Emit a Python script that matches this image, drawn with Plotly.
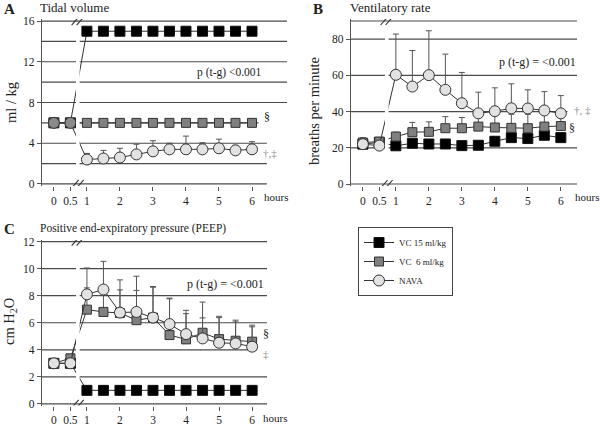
import plotly.graph_objects as go

# ---------------- data ----------------
HOURS = [0, 0.5, 1, 1.5, 2, 2.5, 3, 3.5, 4, 4.5, 5, 5.5, 6]
X_TICKS = [0, 0.5, 1, 2, 3, 4, 5, 6]
X_TICK_LABELS = ["0", "0.5", "1", "2", "3", "4", "5", "6"]
SERIES_NAMES = ["VC 15 ml/kg", "VC \u00a06 ml/kg", "NAVA"]

# A: tidal volume (ml/kg)
tv_vc15 = [6, 6, 15, 15, 15, 15, 15, 15, 15, 15, 15, 15, 15]
tv_vc6 = [6, 6, 6, 6, 6, 6, 6, 6, 6, 6, 6, 6, 6]
tv_nava = [6, 6, 2.4, 2.5, 2.6, 2.9, 3.2, 3.4, 3.4, 3.4, 3.5, 3.3, 3.4]
tv_nava_sd = [None, None, 0.6, 0.8, 0.9, 1.0, 1.05, 0.6, 1.3, 0.65, 0.9, 0.5, 0.75]

# B: ventilatory rate (breaths per minute)
rr_vc15 = [22, 23, 21.1, 22.5, 22.1, 22.1, 21.2, 21.4, 23.6, 25.6, 25.1, 26.9, 25.6]
rr_vc15_sd = [3.5, 2.5, 1.2, 1.5, 1.5, 1.5, 1.2, 1.5, 2.5, 4.3, 3.9, 4.1, 2.5]
rr_vc6 = [22.9, 23.4, 26.2, 28.6, 28.8, 30.8, 30.8, 31.7, 31.2, 31.0, 30.8, 31.7, 32]
rr_vc6_sd = [2.4, 2.1, 2.4, 5.4, 5.5, 6.4, 5.9, 6.8, 7.3, 7.5, 7.7, 6.8, 7.0]
rr_nava = [22, 21.2, 60.3, 53.8, 60.1, 52, 44.6, 39, 40.2, 41.8, 41.7, 40.6, 39]
rr_nava_sd = [1.5, 1.0, 22.5, 19.9, 24.5, 19.7, 17.0, 11.7, 12.9, 13.5, 10.3, 10.4, 9.8]

# C: PEEP (cm H2O)
peep_vc15 = [3, 3, 1, 1, 1, 1, 1, 1, 1, 1, 1, 1, 1]
peep_vc6 = [3.0, 3.37, 6.97, 6.8, 6.72, 6.19, 6.38, 5.09, 4.77, 5.26, 4.79, 4.67, 4.6]
peep_vc6_sd = [None, None, 1.61, 1.5, 1.71, 2.2, 2.25, 2.68, 1.9, 1.1, 1.59, 1.39, 1.1]
peep_nava = [3.0, 3.0, 8.1, 8.46, 6.75, 6.8, 6.38, 5.9, 5.16, 4.84, 4.52, 4.47, 4.23]
peep_nava_sd = [None, None, 1.95, 2.08, 2.42, 2.64, 2.3, 1.92, 1.76, 2.69, 1.96, 1.72, 1.59]

# ---------------- style ----------------
FONT = "Liberation Serif"
INK = "#222222"
GRID = "#4a4a4a"
LINE = "#333333"
DAGGER = "#8a8a8a"
W, H = 600, 425
TICK_SIZE = 11.5

def px_x(p):
    return p / W

def px_y(p):
    return (H - p) / H

fig = go.Figure()

marker_styles = [
    dict(symbol="square", size=10, color="#000000", line=dict(color="#111111", width=1)),
    dict(symbol="square", size=9, color="#808080", line=dict(color="#333333", width=1)),
    dict(symbol="circle", size=11, color="#e2e2e2", line=dict(color="#333333", width=1)),
]

def add_series(xa, ya, y, sd, k, legend=False, marker_override=None):
    m = dict(marker_styles[k])
    if marker_override:
        m.update(marker_override)
    err = None
    if sd is not None:
        err = dict(type="data", array=sd, symmetric=False,
                   arrayminus=[0] * len(sd), color="#555555", thickness=1, width=3)
    fig.add_trace(go.Scatter(
        x=HOURS, y=y, mode="lines+markers", name=SERIES_NAMES[k],
        xaxis=xa, yaxis=ya, marker=m, line=dict(color=LINE, width=1),
        error_y=err, showlegend=legend, legendrank=k + 1,
    ))

# Panel A
add_series("x", "y", tv_vc15, None, 0)
add_series("x", "y", tv_vc6, None, 1)
add_series("x", "y", tv_nava, tv_nava_sd, 2,
           marker_override=dict(color=["#8a8a8a", "#8a8a8a"] + ["#e2e2e2"] * 11))
# Panel B
add_series("x2", "y2", rr_vc15, rr_vc15_sd, 0)
add_series("x2", "y2", rr_vc6, rr_vc6_sd, 1)
add_series("x2", "y2", rr_nava, rr_nava_sd, 2)
# Panel C
add_series("x3", "y3", peep_vc15, None, 0, legend=True)
add_series("x3", "y3", peep_vc6, peep_vc6_sd, 1, legend=True)
add_series("x3", "y3", peep_nava, peep_nava_sd, 2, legend=True)

# ---------------- axes ----------------
XMIN = -0.36
panels = {
    "A": ("xaxis", "yaxis", 42, 287, 19, 186, [-0.2, 16.2], [0, 4, 8, 12, 16], 7.06),
    "B": ("xaxis2", "yaxis2", 351, 577, 19, 186, [-1.1, 91.1], [0, 20, 40, 60, 80], 6.49),
    "C": ("xaxis3", "yaxis3", 42, 267, 240, 405.5, [-0.12, 12.12], [0, 2, 4, 6, 8, 10, 12], 6.45),
}
anchors = {"A": ("y", "x"), "B": ("y2", "x2"), "C": ("y3", "x3")}
layout = {}
for key, (xn, yn, xl, xr, yt, yb, yr, yt_vals, xmax) in panels.items():
    layout[xn] = dict(
        domain=[px_x(xl), px_x(xr)], range=[XMIN, xmax], anchor=anchors[key][0],
        tickvals=X_TICKS, ticktext=X_TICK_LABELS, ticks="outside", ticklen=4,
        tickcolor="#555555", showgrid=False, showline=False, zeroline=False,
        automargin=False, tickfont=dict(size=TICK_SIZE, family=FONT, color=INK),
    )
    layout[yn] = dict(
        domain=[px_y(yb), px_y(yt)], range=yr, anchor=anchors[key][1],
        tickvals=yt_vals, ticks="outside", ticklen=4, tickcolor="#555555",
        showgrid=False, zeroline=False, showline=True, linecolor="#555555", linewidth=1.2,
        automargin=False, tickfont=dict(size=TICK_SIZE, family=FONT, color=INK),
    )

# ---------------- gridlines, break band, break marks ----------------
shapes = []
BAND = (0.67, 0.78)
grid_specs = {
    "A": ("x", "y", [(0, 6.45), (2, 6.45), (4, 6.45), (6, 6.2), (8, 7.06), (10, 7.06),
                     (12, 7.06), (14, 7.06), (16, 7.06)], 16, 0.25),
    "B": ("x2", "y2", [(0, 6.49), (20, 6.49), (40, 6.2), (60, 6.49), (80, 6.49), (90, 6.49)], 90, 1.4),
    "C": ("x3", "y3", [(0, 6.45), (2, 6.45), (4, 6.15), (6, 6.45), (8, 6.45), (10, 6.45),
                       (12, 6.45)], 12, 0.2),
}
for key, (xr_, yr_, levels, top, pad) in grid_specs.items():
    for lvl, xend in levels:
        shapes.append(dict(type="line", xref=xr_, yref=yr_, x0=XMIN, x1=xend, y0=lvl, y1=lvl,
                           line=dict(color=GRID, width=1.2), layer="between"))
    shapes.append(dict(type="rect", xref=xr_, yref=yr_, x0=BAND[0], x1=BAND[1],
                       y0=pad, y1=top - pad, fillcolor="white", line=dict(width=0), layer="above"))
    for ya in (0, top):
        for off in (-2.5, 2.5):
            shapes.append(dict(type="line", xref=xr_, yref=yr_, xsizemode="pixel", ysizemode="pixel",
                               xanchor=0.72, yanchor=ya, x0=off - 3.5, x1=off + 3.5, y0=-4, y1=4,
                               line=dict(color="#333333", width=1.1), layer="above"))

# ---------------- text ----------------
ann = []
def text(t, x, y, xref="paper", yref="paper", size=12, xanchor="left", yanchor="middle",
         color=INK, angle=0, bold=False):
    ann.append(dict(text=f"<b>{t}</b>" if bold else t, x=x, y=y, xref=xref, yref=yref,
                    showarrow=False, xanchor=xanchor, yanchor=yanchor, textangle=angle,
                    font=dict(family=FONT, size=size, color=color)))

text("A", px_x(2), px_y(9), size=15, bold=True)
text("Tidal volume", px_x(38), px_y(8), size=13)
text("B", px_x(311), px_y(9), size=15, bold=True)
text("Ventilatory rate", px_x(348), px_y(8), size=13)
text("C", px_x(2), px_y(229), size=15, bold=True)
text("Positive end-expiratory pressure (PEEP)", px_x(38), px_y(228), size=11.5)

text("ml / kg", px_x(11), px_y(103), size=14.5, xanchor="center", angle=-90)
text("breaths per minute", px_x(314), px_y(111), size=14.5, xanchor="center", angle=-90)
text("cm H<sub>2</sub>O", px_x(10), px_y(322), size=14.5, xanchor="center", angle=-90)

text("hours", px_x(262), px_y(197), size=11)
text("hours", px_x(573), px_y(197), size=11)
text("hours", px_x(261), px_y(418), size=11)

text("p (t-g) <0.001", 4.27, 10.9, "x", "y", size=11.5)
text("§", 6.3, 6.6, "x", "y", size=12)
text("†,‡", 6.27, 3.0, "x", "y", size=11, color=DAGGER)
text("p (t-g) = <0.001", 4.06, 67.4, "x2", "y2", size=12)
text("†, ‡", 6.33, 40.9, "x2", "y2", size=11, color=DAGGER)
text("§", 6.2, 30.9, "x2", "y2", size=12)
text("p (t-g) = <0.001", 3.97, 8.9, "x3", "y3", size=12)
text("§", 6.28, 5.2, "x3", "y3", size=12)
text("‡", 6.28, 3.7, "x3", "y3", size=11, color=DAGGER)

fig.update_layout(
    width=W, height=H, margin=dict(l=0, r=0, t=0, b=0, autoexpand=False),
    paper_bgcolor="white", plot_bgcolor="white",
    font=dict(family=FONT, color=INK, size=12),
    shapes=shapes, annotations=ann,
    legend=dict(x=px_x(358), y=px_y(227), xanchor="left", yanchor="top",
                bordercolor="#444444", borderwidth=1, bgcolor="white",
                font=dict(family=FONT, size=9, color=INK), tracegroupgap=0,
                itemwidth=30, traceorder="normal"),
    **layout,
)

fig.write_html("out.html", config={"displayModeBar": False},
               post_script="document.body.style.margin='0';")
